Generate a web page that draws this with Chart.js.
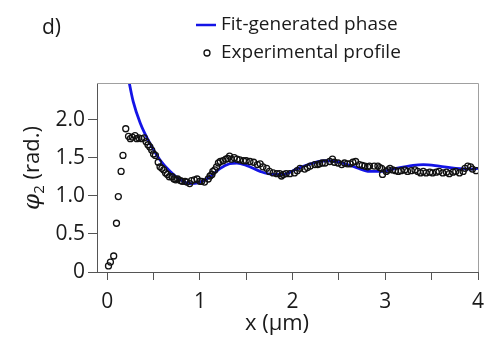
<!DOCTYPE html>
<html>
<head>
<meta charset="utf-8">
<script src="https://cdn.jsdelivr.net/npm/chart.js@4.4.1/dist/chart.umd.min.js"></script>
<style>
html, body { margin: 0; padding: 0; background: #fff; }
#wrap { width: 501px; height: 344px; }
</style>
</head>
<body>
<div id="wrap"><canvas id="phaseChart" width="501" height="344"></canvas></div>
<script>
// labels
const PANEL = 'd)';
const FIT_LABEL = 'Fit-generated phase';
const EXP_LABEL = 'Experimental profile';
const X_TITLE = 'x (\u03bcm)';

// axis ticks
const X_TICKS = [0, 1, 2, 3, 4];
const Y_TICKS = [0, 0.5, 1.0, 1.5, 2.0];

// experimental profile
const expX = [0.014, 0.035, 0.07, 0.10, 0.12, 0.15, 0.17, 0.20, 0.23, 0.25, 0.27, 0.30, 0.32, 0.34, 0.37, 0.40,
	0.42, 0.44, 0.46, 0.48, 0.50, 0.52, 0.55, 0.57, 0.59, 0.61, 0.63, 0.65, 0.67, 0.70, 0.72, 0.74, 0.76, 0.79,
	0.81, 0.84, 0.86, 0.89, 0.91, 0.94, 0.97, 1.00, 1.02, 1.05, 1.09, 1.11, 1.13, 1.14, 1.16, 1.18, 1.20, 1.22,
	1.25, 1.28, 1.30, 1.32, 1.34, 1.37, 1.40, 1.43, 1.47, 1.50, 1.54, 1.58, 1.62, 1.65, 1.68, 1.72, 1.75, 1.79,
	1.83, 1.86, 1.88, 1.90, 1.93, 1.97, 2.02, 2.05, 2.08, 2.13, 2.16, 2.19, 2.24, 2.27, 2.29, 2.32, 2.35, 2.40,
	2.43, 2.45, 2.49, 2.53, 2.56, 2.59, 2.62, 2.65, 2.68, 2.72, 2.75, 2.78, 2.81, 2.83, 2.88, 2.92, 2.94, 2.96,
	2.97, 3.01, 3.03, 3.05, 3.08, 3.11, 3.14, 3.17, 3.21, 3.24, 3.28, 3.32, 3.35, 3.38, 3.41, 3.44, 3.48, 3.51,
	3.55, 3.58, 3.62, 3.66, 3.69, 3.73, 3.76, 3.80, 3.84, 3.86, 3.89, 3.92, 3.94, 3.98];
const expPhase = [0.08, 0.13, 0.21, 0.64, 0.99, 1.32, 1.53, 1.88, 1.78, 1.75, 1.77, 1.79, 1.75, 1.76, 1.75, 1.76,
	1.71, 1.67, 1.64, 1.60, 1.55, 1.53, 1.44, 1.38, 1.36, 1.34, 1.30, 1.28, 1.25, 1.25, 1.22, 1.21, 1.22, 1.20,
	1.19, 1.19, 1.18, 1.16, 1.20, 1.21, 1.22, 1.19, 1.19, 1.18, 1.22, 1.26, 1.28, 1.32, 1.34, 1.38, 1.43, 1.45,
	1.46, 1.48, 1.49, 1.52, 1.48, 1.50, 1.48, 1.47, 1.46, 1.46, 1.45, 1.44, 1.41, 1.42, 1.38, 1.36, 1.32, 1.30,
	1.29, 1.29, 1.26, 1.28, 1.29, 1.29, 1.30, 1.33, 1.36, 1.35, 1.37, 1.39, 1.41, 1.41, 1.42, 1.43, 1.43, 1.45,
	1.48, 1.44, 1.43, 1.41, 1.43, 1.42, 1.42, 1.44, 1.45, 1.41, 1.40, 1.39, 1.38, 1.39, 1.39, 1.39, 1.37, 1.36,
	1.28, 1.32, 1.34, 1.36, 1.34, 1.33, 1.32, 1.33, 1.34, 1.32, 1.33, 1.34, 1.32, 1.30, 1.32, 1.30, 1.31, 1.30,
	1.31, 1.32, 1.30, 1.31, 1.29, 1.31, 1.32, 1.30, 1.32, 1.36, 1.39, 1.38, 1.35, 1.33];

// fit-generated phase, sampled off the blue curve
const fitX = [0.20, 0.24, 0.28, 0.355, 0.46, 0.57, 0.68, 0.79, 0.89, 0.98, 1.11, 1.22, 1.32, 1.40, 1.50, 1.65,
	1.79, 1.90, 2.04, 2.22, 2.36, 2.51, 2.69, 2.83, 2.97, 3.08, 3.30, 3.41, 3.58, 3.76, 3.94, 4.00];
const fitPhase = [2.75, 2.47, 2.24, 1.96, 1.69, 1.47, 1.32, 1.21, 1.16, 1.17, 1.25, 1.36, 1.42, 1.43, 1.40, 1.32,
	1.28, 1.28, 1.35, 1.43, 1.46, 1.44, 1.37, 1.32, 1.32, 1.35, 1.40, 1.41, 1.39, 1.36, 1.35, 1.36];

const FIT_COLOR = '#1414e6';
const TEXT = '#1a1a1a';
const AXIS = '#555';

Chart.defaults.font.family = '"Open Sans", "DejaVu Sans", sans-serif';
Chart.defaults.color = TEXT;

const decor = {
	id: 'decor',
	afterDraw(chart) {
		const { ctx, chartArea: a } = chart;
		ctx.save();
		// light frame on top and right
		ctx.strokeStyle = '#a0a0a0';
		ctx.lineWidth = 1;
		ctx.beginPath();
		ctx.moveTo(a.left, a.top + 0.5);
		ctx.lineTo(a.right + 0.5, a.top + 0.5);
		ctx.lineTo(a.right + 0.5, a.bottom);
		ctx.stroke();

		ctx.fillStyle = TEXT;
		ctx.textBaseline = 'middle';
		ctx.textAlign = 'left';
		ctx.font = '21px "Open Sans"';
		ctx.fillText(PANEL, 42, 28);

		// legend
		ctx.font = '19px "Open Sans"';
		ctx.strokeStyle = FIT_COLOR;
		ctx.lineWidth = 2.5;
		ctx.beginPath();
		ctx.moveTo(196, 25);
		ctx.lineTo(216, 25);
		ctx.stroke();
		ctx.fillText(FIT_LABEL, 221, 25);
		ctx.strokeStyle = '#111';
		ctx.lineWidth = 1.3;
		ctx.beginPath();
		ctx.arc(207, 53, 3, 0, Math.PI * 2);
		ctx.stroke();
		ctx.fillText(EXP_LABEL, 221, 53);

		// x title
		ctx.font = '22px "Open Sans"';
		ctx.textAlign = 'center';
		ctx.fillText(X_TITLE, 277, 324);

		// y title: italic phi, subscript 2, (rad.)
		ctx.translate(31, 168);
		ctx.rotate(-Math.PI / 2);
		ctx.textAlign = 'left';
		ctx.textBaseline = 'alphabetic';
		const parts = [
			{ t: '\u03c6', f: 'italic 23px "DejaVu Serif"', dy: 0 },
			{ t: '2', f: '15px "Open Sans"', dy: 5 },
			{ t: ' (rad.)', f: '22px "Open Sans"', dy: 0 }
		];
		let w = 0;
		parts.forEach(p => { ctx.font = p.f; p.w = ctx.measureText(p.t).width; w += p.w; });
		let x = -w / 2;
		parts.forEach(p => { ctx.font = p.f; ctx.fillText(p.t, x, 8 + p.dy); x += p.w; });
		ctx.restore();
	}
};

new Chart(document.getElementById('phaseChart'), {
	type: 'scatter',
	data: {
		datasets: [
			{
				label: EXP_LABEL,
				data: expX.map((x, i) => ({ x, y: expPhase[i] })),
				pointStyle: 'circle',
				pointRadius: 3,
				pointBorderWidth: 1.3,
				pointBorderColor: '#111',
				pointBackgroundColor: 'rgba(255,255,255,0)',
				order: 0
			},
			{
				type: 'line',
				label: FIT_LABEL,
				data: fitX.map((x, i) => ({ x, y: fitPhase[i] })),
				borderColor: FIT_COLOR,
				borderWidth: 2.8,
				pointRadius: 0,
				cubicInterpolationMode: 'monotone',
				fill: false,
				order: 1
			}
		]
	},
	options: {
		responsive: false,
		animation: false,
		layout: { padding: { top: 83, right: 23, left: 0, bottom: 0 } },
		plugins: { legend: { display: false }, tooltip: { enabled: false } },
		scales: {
			x: {
				type: 'linear',
				min: -0.11,
				max: 4,
				border: { color: AXIS, width: 1 },
				grid: { drawOnChartArea: false, color: AXIS, tickLength: 8 },
				ticks: {
					stepSize: 0.5,
					includeBounds: false,
					autoSkip: false,
					maxRotation: 0,
					padding: 9,
					font: { size: 21 },
					callback: v => X_TICKS.includes(v) ? String(v) : ''
				},
				afterFit(s) { s.height = 72; }
			},
			y: {
				min: 0,
				max: 2.48,
				border: { color: AXIS, width: 1 },
				grid: { drawOnChartArea: false, color: AXIS, tickLength: 9 },
				ticks: {
					stepSize: 0.5,
					includeBounds: false,
					padding: 3,
					font: { size: 21 },
					callback: v => Y_TICKS.includes(v) ? (v === 0 ? '0' : v.toFixed(1)) : ''
				},
				afterFit(s) { s.width = 97; }
			}
		}
	},
	plugins: [decor]
});
</script>
</body>
</html>
